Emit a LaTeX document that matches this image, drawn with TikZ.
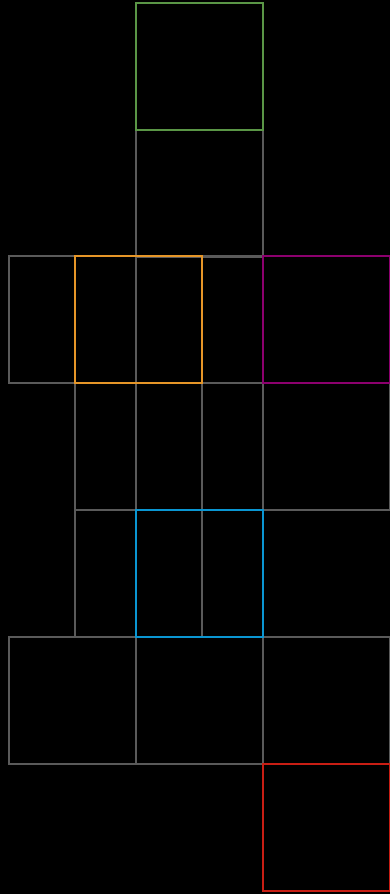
\documentclass[tikz,border=0pt]{standalone}
\definecolor{gridgray}{RGB}{90,90,90}
\definecolor{sqgreen}{RGB}{90,150,70}
\definecolor{sqorange}{RGB}{230,150,40}
\definecolor{sqmagenta}{RGB}{140,0,110}
\definecolor{sqblue}{RGB}{10,150,210}
\definecolor{sqred}{RGB}{200,30,20}
\begin{document}
\begin{tikzpicture}[x=1pt, y=-1pt]
\tikzstyle{sq}=[draw=gridgray, line width=2pt, minimum width=127pt, minimum height=127pt, inner sep=0pt, outer sep=0pt]
\tikzstyle{green sq}=[sq, draw=sqgreen]
\tikzstyle{orange sq}=[sq, draw=sqorange]
\tikzstyle{magenta sq}=[sq, draw=sqmagenta]
\tikzstyle{blue sq}=[sq, draw=sqblue]
\tikzstyle{red sq}=[sq, draw=sqred]
\fill[black] (0,0) rectangle (390,894);
\useasboundingbox (0,0) rectangle (390,894);
% gray grid squares
\node[sq] (c2) at (199.5,193) {};
\node[sq] (a3) at (72,319.5) {}; \node[sq] (c3) at (199.5,319.5) {};
\node[sq] (b4) at (138.5,446.5) {}; \node[sq] (c4) at (199.5,446.5) {}; \node[sq] (e4) at (326,446.5) {};
\node[sq] (b5) at (138.5,573.5) {};
\node[sq] (a6) at (72,700.5) {}; \node[sq] (c6) at (199.5,700.5) {}; \node[sq] (e6) at (326,700.5) {};
% coloured squares
\node[green sq] (top) at (199.5,66) {};
\node[orange sq] (left) at (138.5,319.5) {};
\node[magenta sq] (right) at (326,319.5) {};
\node[blue sq] (mid) at (199.5,573.5) {};
\node[red sq] (bottom) at (326,827.5) {};
\end{tikzpicture}
\end{document}
